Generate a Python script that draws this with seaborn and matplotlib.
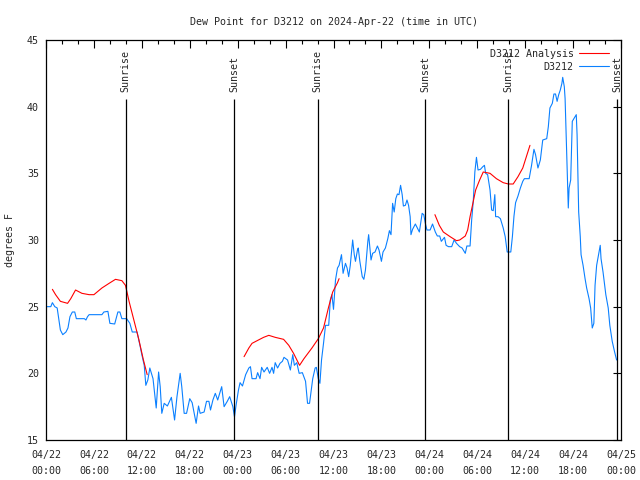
import pandas as pd
import numpy as np
import matplotlib
matplotlib.use("Agg")
import matplotlib.pyplot as plt
import matplotlib.dates as mdates
from matplotlib.lines import Line2D
import seaborn as sns

# hours after 2024-04-22 00:00 UTC, values in degrees F
obs_hours = [0.08, 0.6, 0.8, 1.1, 1.4, 1.6, 1.8, 2.1, 2.5, 2.75, 3.0, 3.3, 3.6, 3.8, 4.3, 4.8,
             5.0, 5.2, 5.4, 7.0, 7.25, 7.75, 8.0, 8.6, 9.0, 9.25, 9.5, 10.1, 10.5, 10.8, 11.4,
             11.8, 12.0, 12.3, 12.5, 12.75, 13.0, 13.4, 13.8, 14.1, 14.3, 14.5, 14.8, 15.2,
             15.7, 16.1, 16.4, 16.8, 17.0, 17.3, 17.6, 18.0, 18.3, 18.8, 19.1, 19.3, 19.8,
             20.1, 20.4, 20.6, 20.9, 21.2, 21.5, 22.0, 22.3, 22.7, 23.0, 23.4, 23.6, 23.8,
             24.1, 24.3, 24.6, 25.0, 25.4, 25.6, 25.8, 26.3, 26.5, 26.8, 27.0, 27.3, 27.7,
             28.0, 28.3, 28.5, 28.7, 29.0, 29.3, 29.6, 29.8, 30.25, 30.6, 30.9, 31.1, 31.4,
             31.7, 32.1, 32.5, 32.75, 33.0, 33.4, 33.7, 33.85, 34.1, 34.3, 34.5, 34.75, 35.0,
             35.4, 35.6, 35.8, 36.0, 36.25, 36.5, 36.7, 37.0, 37.2, 37.5, 37.7, 37.9, 38.1,
             38.4, 38.6, 38.75, 39.0, 39.1, 39.3, 39.6, 39.8, 40.0, 40.3, 40.4, 40.7, 40.9,
             41.2, 41.5, 41.7, 42.0, 42.2, 42.5, 42.8, 43.0, 43.2, 43.4, 43.6, 43.8, 44.0,
             44.2, 44.4, 44.6, 44.75, 45.0, 45.2, 45.4, 45.6, 45.7, 45.9, 46.25, 46.5, 46.75,
             47.1, 47.3, 47.5, 47.7, 48.1, 48.4, 48.75, 49.0, 49.3, 49.5, 49.9, 50.1, 50.4,
             50.8, 51.1, 51.4, 51.8, 52.1, 52.5, 52.7, 53.1, 53.3, 53.5, 53.7, 53.9, 54.1,
             54.4, 54.7, 54.9, 55.05, 55.3, 55.6, 55.8, 56.0, 56.2, 56.3, 56.6, 56.9, 57.25,
             57.5, 57.75, 58.2, 58.4, 58.6, 58.8, 59.1, 59.4, 59.7, 59.9, 60.5, 60.8, 61.1,
             61.3, 61.6, 61.9, 62.2, 62.7, 62.9, 63.1, 63.4, 63.6, 63.8, 64.0, 64.2, 64.4,
             64.6, 64.7, 64.9, 65.0, 65.2, 65.3, 65.4, 65.5, 65.7, 65.9, 66.1, 66.4, 66.5,
             66.7, 66.9, 67.0, 67.25, 67.5, 67.7, 68.0, 68.2, 68.4, 68.6, 68.75, 68.95, 69.1,
             69.4, 69.5, 69.75, 70.1, 70.4, 70.6, 70.9, 71.2, 71.45]
obs_dewpt = [25.0, 25.0, 25.3, 25.0, 24.9, 24.1, 23.25, 22.9, 23.1, 23.4, 24.25, 24.6, 24.6, 24.1, 24.1, 24.1,
             24.0, 24.25, 24.4, 24.4, 24.6, 24.65, 23.75, 23.7, 24.6, 24.6, 24.1, 24.1, 23.75, 23.1, 23.1,
             22.0, 21.4, 20.6, 19.1, 19.5, 20.4, 19.6, 17.4, 20.1, 19.0, 17.0, 17.75, 17.55,
             18.2, 16.5, 18.25, 20.0, 19.0, 17.0, 17.0, 18.1, 17.8, 16.25, 17.55, 17.0, 17.1,
             17.9, 17.9, 17.25, 18.0, 18.5, 18.0, 19.0, 17.5, 17.9, 18.25, 17.5, 16.75, 17.6,
             18.75, 19.3, 19.05, 19.9, 20.4, 20.5, 19.6, 19.6, 20.05, 19.6, 20.45, 20.1, 20.45,
             20.0, 20.45, 20.0, 20.8, 20.4, 20.75, 20.9, 21.2, 21.0, 20.25, 21.4, 20.6, 20.8,
             20.0, 20.05, 19.4, 17.75, 17.75, 19.6, 20.4, 20.45, 19.6, 19.25, 21.0, 22.25, 23.6,
             23.6, 25.5, 25.9, 24.8, 27.0, 27.9, 28.1, 28.9, 27.5, 28.25, 27.9, 27.25, 28.1,
             30.0, 28.9, 28.4, 29.25, 29.4, 28.4, 27.25, 27.05, 27.75, 29.9, 30.4, 28.5, 29.0,
             29.1, 29.55, 29.25, 28.4, 29.1, 29.4, 30.1, 30.7, 30.4, 32.75, 32.1, 33.1, 33.45,
             33.4, 34.1, 33.4, 32.55, 32.6, 33.0, 32.6, 31.75, 30.4, 30.8, 31.2, 30.9, 30.6,
             32.0, 31.9, 31.25, 30.75, 30.75, 31.2, 30.6, 30.3, 30.3, 29.9, 30.2, 29.6, 29.5,
             29.5, 30.0, 29.75, 29.5, 29.4, 29.0, 29.55, 29.55, 31.5, 32.9, 35.1, 36.2, 35.25,
             35.3, 35.5, 35.6, 35.0, 34.9, 33.75, 32.25, 32.2, 33.4, 31.75, 31.75, 31.6, 30.9,
             30.25, 29.1, 29.1, 30.25, 31.8, 32.8, 33.3, 33.9, 34.4, 34.6, 34.6, 35.6, 36.8,
             36.4, 35.4, 36.0, 37.5, 37.6, 38.5, 39.9, 40.25, 40.95, 40.95, 40.4, 40.9, 41.25,
             41.75, 42.2, 41.5, 40.6, 36.6, 34.5, 32.4, 33.9, 34.5, 38.9, 39.1, 39.4, 37.9,
             32.1, 30.25, 28.9, 28.1, 27.1, 26.4, 25.6, 24.9, 23.4, 23.75, 26.6, 28.1, 28.6,
             29.6, 28.6, 27.6, 25.9, 24.9, 23.6, 22.4, 21.6, 21.0]

# analysis runs (three separate 12-hour pieces)
ana_run = [1] * 19 + [2] * 19 + [3] * 21
ana_hours = [0.8, 1.2, 1.8, 2.7, 3.1, 3.7, 4.5, 5.4, 6.0, 7.0, 7.9, 8.7, 9.5, 9.95, 10.4, 11.0, 11.6, 12.2, 12.67,
             24.8, 25.4, 25.8, 26.6, 27.25, 27.9, 28.7, 29.75, 30.4, 31.0, 31.75, 32.3, 33.3, 34.1, 34.75, 35.4, 35.9, 36.5, 36.7,
             48.7, 49.25, 49.75, 50.6, 51.4, 51.8, 52.5, 52.8, 53.1, 53.4, 53.8, 54.3, 54.75, 55.6, 56.4, 57.25, 57.9, 58.5,
             59.1, 59.7, 60.6]
ana_dewpt = [26.3, 25.9, 25.4, 25.25, 25.6, 26.25, 26.0, 25.9, 25.9, 26.4, 26.75, 27.05, 26.95, 26.6, 25.4, 24.0, 22.6, 21.0, 19.9,
             21.25, 21.9, 22.25, 22.5, 22.7, 22.85, 22.7, 22.55, 22.1, 21.5, 20.6, 21.1, 21.9, 22.6, 23.4, 25.0, 26.1, 26.8, 27.1,
             31.9, 31.1, 30.6, 30.25, 29.95, 30.0, 30.3, 30.75, 31.75, 32.6, 33.75, 34.5, 35.1, 35.0, 34.6, 34.3, 34.2, 34.2,
             34.75, 35.4, 37.1]

sun_hours = [10.0, 23.6, 34.0, 47.5, 57.9, 71.5]
sun_labels = ["Sunrise", "Sunset", "Sunrise", "Sunset", "Sunrise", "Sunset"]

t0 = pd.Timestamp("2024-04-22 00:00")
obs = pd.DataFrame({"time": t0 + pd.to_timedelta(obs_hours, unit="h"), "dewpt": obs_dewpt})
ana = pd.DataFrame({"time": t0 + pd.to_timedelta(ana_hours, unit="h"), "dewpt": ana_dewpt, "run": ana_run})
sun_times = t0 + pd.to_timedelta(sun_hours, unit="h")

red = "red"
blue = "#0a80ff"

sns.set_style("white")
plt.rcParams['font.family'] = ['DejaVu Sans Mono']
plt.rcParams['font.size'] = 7.2

fig = plt.figure(figsize=(6.4, 4.8), dpi=100)
ax = fig.add_axes([46 / 640, 40 / 480, 575 / 640, 400 / 480])

sns.lineplot(data=ana, x="time", y="dewpt", units="run", estimator=None, color=red,
             lw=0.8, ax=ax, legend=False, zorder=3)
sns.lineplot(data=obs, x="time", y="dewpt", color=blue, lw=0.8, ax=ax,
             legend=False, zorder=2)

for t, lab in zip(sun_times, sun_labels):
    ax.vlines(t, 15, 40.6, color="black", lw=0.9, zorder=4)
    ax.text(t, 41.1, lab, rotation=90, ha="center", va="bottom", fontsize=7.2, clip_on=False)

ax.set_xlim(t0, t0 + pd.Timedelta(hours=72))
ax.set_ylim(15, 45)
ax.set_yticks([15, 20, 25, 30, 35, 40, 45])
ax.xaxis.set_major_locator(mdates.HourLocator(byhour=[0, 6, 12, 18]))
ax.xaxis.set_minor_locator(mdates.HourLocator(interval=2))
ax.xaxis.set_major_formatter(mdates.DateFormatter("%m/%d\n%H:%M"))
ax.tick_params(which="major", direction="in", length=6, width=0.8, top=True, right=True,
               labelsize=7.2, pad=5, color="black")
ax.tick_params(axis="x", which="major", pad=7)
ax.tick_params(which="minor", direction="in", length=3, width=0.8, top=True, right=False, color="black")
ax.tick_params(axis="y", which="minor", left=False, right=False)
plt.setp(ax.get_xticklabels(), linespacing=1.75)
for s in ax.spines.values():
    s.set_color("black")
    s.set_linewidth(0.9)

ax.set_xlabel("")
ax.set_ylabel("degrees F", fontsize=7.2, labelpad=9)
ax.set_title("Dew Point for D3212 on 2024-Apr-22 (time in UTC)", fontsize=7.2, pad=11)

handles = [Line2D([], [], color=red, lw=0.8), Line2D([], [], color=blue, lw=0.8)]
ax.legend(handles, ["D3212 Analysis", "D3212"], loc="upper right", bbox_to_anchor=(0.987, 0.99),
          frameon=False, markerfirst=False, fontsize=7.2, handlelength=3.0, handletextpad=0.5,
          labelspacing=0.3, borderpad=0)

fig.savefig("out.png", dpi=100)
